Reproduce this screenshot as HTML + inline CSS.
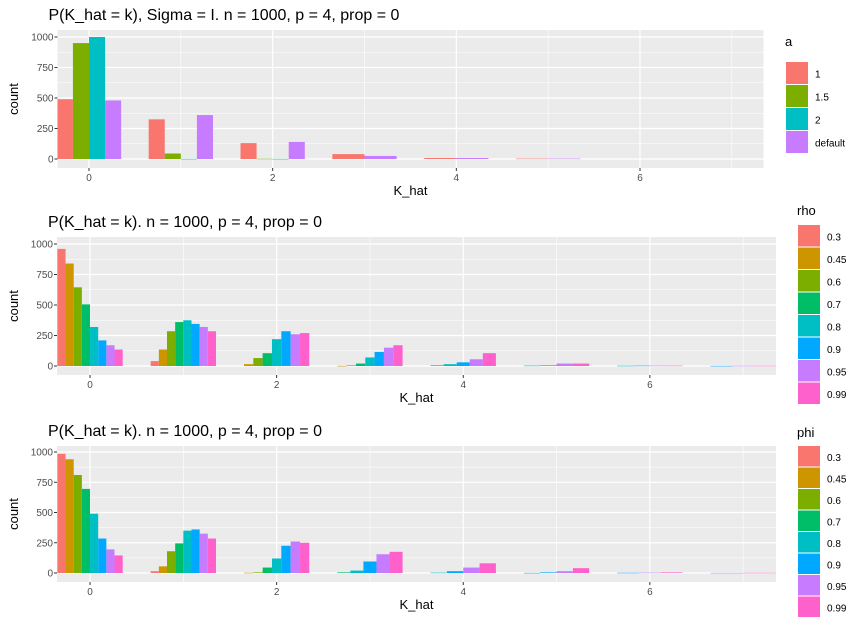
<!DOCTYPE html>
<html><head><meta charset="utf-8"><style>
body{margin:0;background:#fff;font-family:"Liberation Sans",sans-serif}
</style></head><body>
<svg id="c" width="866" height="621" xmlns="http://www.w3.org/2000/svg" font-family="Liberation Sans, sans-serif"></svg>
<script>
const kValues=[0,1,2,3,4,5,6,7];
const xTicks=[0,2,4,6];
const yTicks=[0,250,500,750,1000];
const aLevels=["1","1.5","2","default"];
const aCounts=[[490,325,130,40,8,3,0,0],[950,45,2,0,0,0,0,0],[1000,1,1,0,0,0,0,0],[480,360,140,25,8,3,0,0]];
const rhoLevels=["0.3","0.45","0.6","0.7","0.8","0.9","0.95","0.99"];
const rhoCounts=[[960,40,0,0,0,0,0,0],[840,135,15,1,0,0,0,0],[645,285,65,5,0,0,0,0],[505,360,105,20,5,0,0,0],[320,375,220,70,15,3,2,0],[210,345,285,115,30,5,3,1],[170,320,260,150,55,20,3,2],[135,285,270,170,105,20,3,2]];
const phiLevels=["0.3","0.45","0.6","0.7","0.8","0.9","0.95","0.99"];
const phiCounts=[[985,15,0,0,0,0,0,0],[940,55,2,0,0,0,0,0],[810,180,5,0,0,0,0,0],[695,245,45,5,0,0,0,0],[490,350,120,20,3,1,0,0],[285,360,225,95,15,5,2,0],[195,325,260,155,45,15,3,1],[145,285,250,175,80,40,5,2]];
const pal4=["#F8766D","#7CAE00","#00BFC4","#C77CFF"];
const pal8=["#F8766D","#CD9600","#7CAE00","#00BE67","#00BFC4","#00A9FF","#C77CFF","#FF61CC"];
const svg=document.getElementById('c');
const NS="http://www.w3.org/2000/svg";
function mk(t,a,p){const e=document.createElementNS(NS,t);for(const k in a)e.setAttribute(k,a[k]);(p||svg).appendChild(e);return e;}
function panel(o){
  const g=mk('g',{});
  
  
  const x=v=>o.x0+(v-o.xmin)/(o.xmax-o.xmin)*(o.x1-o.x0);
  const y=v=>o.yz-v*o.ys;
  mk('rect',{x:o.x0,y:o.y0,width:o.x1-o.x0,height:o.y1-o.y0,fill:'#EBEBEB'},g);
  for(let v=1;v<=7;v+=2) if(x(v)<o.x1) mk('line',{x1:x(v),x2:x(v),y1:o.y0,y2:o.y1,stroke:'#fff','stroke-width':0.6},g);
  for(let i=0;i<yTicks.length-1;i++){const yy=y((yTicks[i]+yTicks[i+1])/2);mk('line',{x1:o.x0,x2:o.x1,y1:yy,y2:yy,stroke:'#fff','stroke-width':0.6},g);}
  xTicks.forEach(v=>{mk('line',{x1:x(v),x2:x(v),y1:o.y0,y2:o.y1,stroke:'#fff','stroke-width':1.2},g);
    mk('line',{x1:x(v),x2:x(v),y1:o.y1,y2:o.y1+3,stroke:'#333'},g);
    const t=mk('text',{x:x(v),y:o.y1+13,'text-anchor':'middle','font-size':10,fill:'#4D4D4D'},g);t.textContent=v;
    });
  yTicks.forEach(v=>{mk('line',{x1:o.x0,x2:o.x1,y1:y(v),y2:y(v),stroke:'#fff','stroke-width':1.2},g);
    mk('line',{x1:o.x0-3,x2:o.x0,y1:y(v),y2:y(v),stroke:'#333'},g);
    const t=mk('text',{x:o.x0-4,y:y(v)+3.5,'text-anchor':'end','font-size':10,fill:'#4D4D4D'},g);t.textContent=v;
    });
  const n=o.levels.length;
  const clip=mk('clipPath',{id:'cl'+o.name},g);mk('rect',{x:o.x0,y:o.y0,width:o.x1-o.x0,height:o.y1-o.y0},clip);
  const bg=mk('g',{'clip-path':'url(#cl'+o.name+')'},g);
  kValues.forEach((k,i)=>{
    const present=[];
    for(let s=0;s<n;s++) if(o.counts[s][i]>0) present.push(s);
    if(!present.length)return;
    const w=0.7/present.length;
    present.forEach((s,j)=>{
      const c=o.counts[s][i];
      const l=k-0.35+j*w;
      const r=mk('rect',{x:x(l),y:y(c),width:x(l+w)-x(l),height:Math.max(y(0)-y(c),0.5),fill:o.pal[s]},bg);
      
      
    });
  });
  let t=mk('text',{x:o.x0-9,y:o.y0-10,'font-size':16,fill:'#000'},g);t.textContent=o.title;
  
  t=mk('text',{x:(o.x0+o.x1)/2,y:o.y1+27,'text-anchor':'middle','font-size':13,fill:'#000'},g);t.textContent='K_hat';
  
  const cy=(o.y0+o.y1)/2;
  t=mk('text',{x:18,y:cy,'text-anchor':'middle','font-size':13,fill:'#000',transform:`rotate(-90 18 ${cy})`},g);t.textContent='count';
  
  t=mk('text',{x:o.lx,y:o.ly,'font-size':13,fill:'#000'},g);t.textContent=o.ltitle;
  
  o.levels.forEach((lv,s)=>{
    const yy=o.ly+o.lgap+s*o.kh;
    const r=mk('rect',{x:o.lx+1,y:yy,width:22,height:o.kh-1,fill:o.pal[s]},g);
    
    const tt=mk('text',{x:o.lx+30,y:yy+o.kh/2+4,'font-size':10,fill:'#000'},g);tt.textContent=lv;
    
  });
}
panel({name:'panel-a',x0:57.5,x1:763.5,y0:30,y1:168,xmin:-0.343,xmax:7.345,yz:159,ys:0.122,
  levels:aLevels,counts:aCounts,pal:pal4,title:'P(K_hat = k), Sigma = I. n = 1000, p = 4, prop = 0',
  ltitle:'a',lx:785,ly:46,lgap:16,kh:23});
panel({name:'panel-rho',x0:57,x1:776,y0:237,y1:375,xmin:-0.354,xmax:7.352,yz:366,ys:0.122,
  levels:rhoLevels,counts:rhoCounts,pal:pal8,title:'P(K_hat = k). n = 1000, p = 4, prop = 0',
  ltitle:'rho',lx:797,ly:215,lgap:10,kh:22.5});
panel({name:'panel-phi',x0:57,x1:776,y0:446,y1:582,xmin:-0.354,xmax:7.352,yz:573,ys:0.121,
  levels:phiLevels,counts:phiCounts,pal:pal8,title:'P(K_hat = k). n = 1000, p = 4, prop = 0',
  ltitle:'phi',lx:797,ly:437,lgap:9,kh:21.5});
</script>
</body></html>
